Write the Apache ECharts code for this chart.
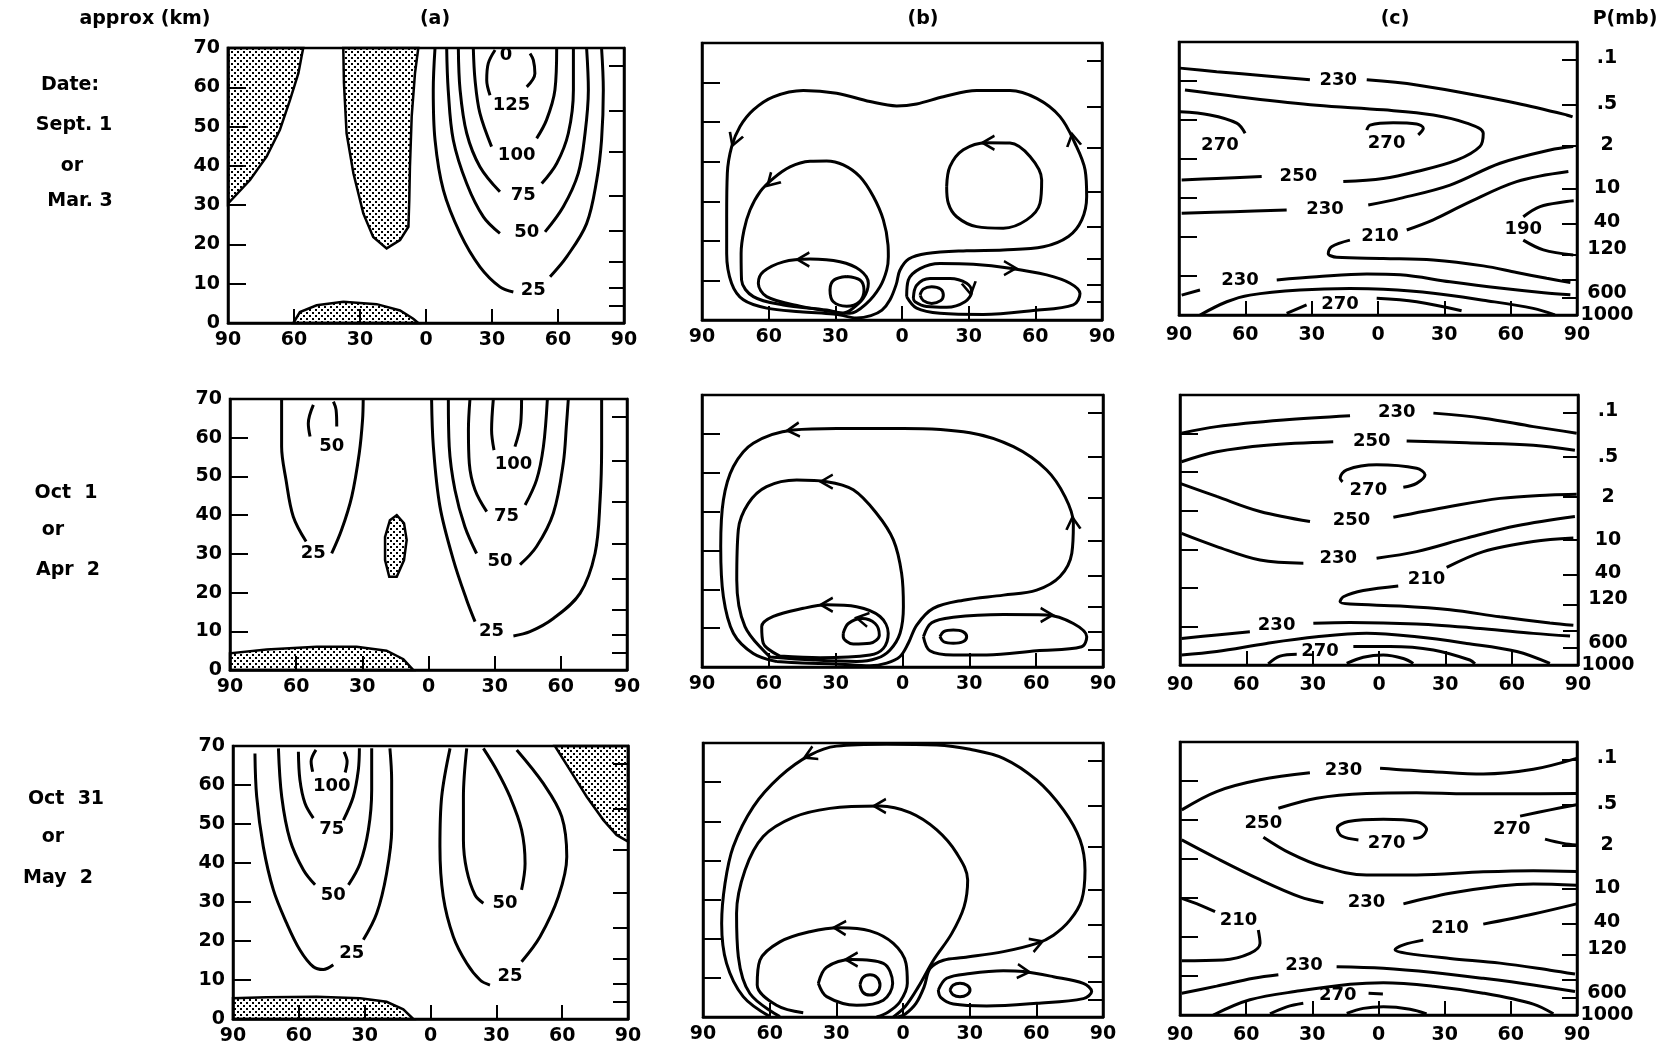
<!DOCTYPE html>
<html><head><meta charset="utf-8">
<script src="https://cdn.jsdelivr.net/npm/echarts@6/dist/echarts.min.js"></script>
<style>html,body{margin:0;padding:0;background:#fff}#c{width:1663px;height:1052px}</style>
</head><body><div id="c"></div>
<script>
// ---------- axis data ----------
const LAT_MIN = -90, LAT_MAX = 90, LAT_STEP = 30;
const KM_MIN = 0, KM_MAX = 70, KM_STEP = 10;
const P_TICK_KM = [65.5, 54, 43.5, 32.5, 23.5, 15.5, 9, 4.5];
const P_LABEL_KM = [65.8, 54, 43.5, 32.5, 23.8, 17, 5.6, 0];
const P_LABELS = ['.1', '.5', '2', '10', '40', '120', '600', '1000'];

// ---------- row 1 (Sept 1 / Mar 3) ----------
const A1_SHADES = [
  [[-90,70],[-55.8,70],[-56.5,68],[-58,63.6],[-61.8,56.8],[-66.4,49.2],[-72.4,42.4],[-80,36.4],[-90,30.4]],
  [[-37.6,70],[-37.3,61.1],[-36.1,48.3],[-33,38.1],[-28.5,27.9],[-24,21.9],[-17.9,19],[-11.8,21.1],[-8,24.5],[-7.6,31.3],[-7.3,39.8],[-6.5,52.6],[-5,63.6],[-3.5,70]],
  [[-60.3,0],[-57.3,2.8],[-49.7,4.5],[-37.6,5.4],[-22.4,4.8],[-11.8,3.2],[-5.8,1.1],[-3.5,0]]
];
const A1_LINES = [
  [[4.1,70],[3.3,59.3],[4.1,46.6],[7.9,33.8],[15.5,22.8],[24.5,14.3],[33.6,9.2],[39.7,7.9]],
  [[56.4,11.8],[64,16.9],[73,25.3],[77.6,36.4],[79.8,46.6],[80.6,59.3],[79.8,70]],
  [[9.4,70],[10.1,59.3],[12.4,46.6],[18.5,35.5],[26.1,27],[33.6,22.8]],
  [[54.1,23.2],[62.4,29.6],[69.2,38.1],[72.3,48.3],[73.8,59.3],[73,70]],
  [[14.7,70],[15.5,59.3],[18.5,48.3],[24.5,39.8],[33.6,33.4]],
  [[52.6,35.5],[59.4,40.6],[64.7,48.3],[67,59.3],[67,70]],
  [[21.5,70],[22.3,61.8],[24.5,53.4],[29.8,44.9]],
  [[50.3,47],[54.8,51.7],[58.6,59.3],[59.4,70]],
  [[31.4,69.5],[28.3,66.1],[27.6,61.8],[29.1,58]],
  [[45.8,60.1],[49.5,63.5],[48.8,66.9],[47.3,68.6]]
];
const A1_LABELS = [[48.8,8.4,'25'],[45.8,23.2,'50'],[44.2,32.6,'75'],[41.2,42.7,'100'],[38.9,55.5,'125'],[36.4,68.2,'0']];

const B1_LINES = [
  [[-26.4,1.1],[-30.9,1.5],[-45.9,2.1],[-60.9,3.0],[-71.4,5.1],[-76.7,9.3],[-78.9,16.8],[-78.9,26.1],[-78.6,37.1],[-76.65,43.8],[-72.9,48.9],[-66.9,53.1],[-57.9,56.4],[-44.4,58],[-29.4,57.3],[-14.4,55.2],[-2.4,54.1],[6.6,54.6],[18.6,56.4],[33.6,58],[48.6,58],[60.6,56],[71.1,51.4],[77.9,44.6],[82.4,37.9],[83.1,31.2],[80.9,25.3],[74.9,21.1],[63.6,18.5],[45.6,17.7],[29.1,17.5],[11.1,16.8],[3,15.4],[-1,12.5],[-2.6,9],[-5.4,5.1],[-9,2.5],[-14,1.1],[-20.4,0.5],[-26.4,1.1]],
  [[-27.9,1.7],[-33.9,2.5],[-53.4,3.8],[-66.9,5.9],[-72.2,10.1],[-72.4,16.8],[-71.1,22.7],[-68.4,27.8],[-63.9,32.4],[-57.9,35.8],[-50.4,38.7],[-41.4,40.1],[-33.9,40.2],[-26.4,39.2],[-18.9,36.2],[-12.9,31.2],[-8.4,25.3],[-6.3,19],[-6.15,16],[-6.9,12.6],[-9.9,8.4],[-15.9,4.2],[-23.4,1.7],[-27.9,1.7]],
  [[-26.4,1.7],[-45.9,3.5],[-60.9,5.9],[-64.65,9.3],[-62.4,12.2],[-53.4,14.7],[-41.4,15.4],[-27.9,14.7],[-18.9,12.6],[-15.15,9.3],[-17.4,5.5],[-23.4,2.4],[-26.4,1.7]],
  [[-24.9,11],[-18.9,10.1],[-17.1,7.6],[-19.2,4.6],[-24.9,3.5],[-30.9,4.6],[-32.4,7.6],[-30.6,10.1],[-24.9,11]],
  [[2.1,5.9],[2.85,10.1],[8.1,13],[17.1,14.3],[32.1,14.1],[48.6,13.1],[65.1,11.4],[75.6,9.3],[80.1,6.7],[77.1,3.8],[59.1,2.4],[36.6,1.4],[17.1,1.7],[6.6,3],[2.1,5.9]],
  [[5.1,5.5],[6.6,8.8],[12.6,10.5],[21.6,10.5],[29.1,9.3],[31.35,7.2],[28.35,4.6],[20.1,3.2],[11.1,3.4],[5.85,4.6],[5.1,5.5]],
  [[8.1,6.3],[9.6,7.8],[13.35,8.4],[17.4,7.8],[18.6,6.3],[17.4,4.9],[13.35,4.2],[9.6,4.9],[8.1,6.3]],
  [[20.1,33.7],[21.6,38.8],[27.6,43],[38.1,44.8],[48.6,44.7],[57.6,41.3],[62.85,35.4],[62.1,29.5],[56.1,25.3],[45.6,23.2],[33.6,23.6],[24.6,26.1],[20.85,29.5],[20.1,33.7]]
];
const B1_ARROWS = [[-75.4,45.5,-110],[77,45.5,100],[-58.6,35,-135],[-44.4,15.3,180],[38.9,44.8,180],[48.6,13.1,0],[30.5,8.0,-80]];

const C1_LINES = [
  [[-89.55,63.3],[-72.97,62.4],[-50.3,61.3],[-30.8,60.3]],
  [[-5.1,60.3],[17.5,59],[40.1,56.8],[62.7,54.3],[85.3,51.3],[88,50.8]],
  [[-87.3,57.7],[-57.9,55.6],[-27.7,53.8],[2.4,52.6],[25,51.3],[40.1,49.2],[47.6,46.6],[46.1,43.2],[35.6,39.7],[17.5,36.8],[2.4,35],[-15.7,34.2]],
  [[-52.6,35.5],[-73,35],[-88.8,34.6]],
  [[-89.55,52.1],[-76,51.3],[-63.9,49.2],[-60.1,46.6]],
  [[-5.1,47.4],[-3.6,48.7],[6.9,49.3],[17.5,49],[20.5,47.9],[18.2,46.2]],
  [[-88.8,26.1],[-65.4,26.5],[-41.3,26.9]],
  [[-4.4,28.2],[10,29.9],[32.6,33.3],[55.2,38.9],[77.8,42.3],[88.3,43.2]],
  [[86.1,36.8],[62.7,34.2],[40.1,28.6],[25,24.4],[13,21.8]],
  [[-12.7,19.2],[-21,17.5],[-22.5,15.8],[-18.7,14.8],[2.4,14.5],[25,14.1],[47.6,12.6],[62.7,10.9],[76.3,9.4],[87,8.3]],
  [[65.7,25.2],[73.3,27.8],[85.3,29.1],[88.5,29.3]],
  [[65.7,19.2],[74.8,16.7],[88.3,15.4]],
  [[-88.8,5.1],[-80.5,6.4]],
  [[-45.8,9],[-27.7,9.8],[-5.1,10.5],[10,10.3],[32.6,8.5],[55,6.9],[75,5.7],[87,5.2]],
  [[-80.5,0],[-68.4,3.4],[-57.9,5.1],[-35.3,6.4],[-12.7,6.8],[2.4,6.6],[25,5.6],[47.6,3.8],[70.2,1.7],[80,0]],
  [[-41.3,0.4],[-32.3,2.6]],
  [[-0.6,4.3],[17.5,3.4],[37.8,1.1]]
];
const C1_LABELS = [[-17.95,60.3,'230'],[-36,35.5,'250'],[-71.5,43.6,'270'],[3.9,44,'270'],[-24,27.1,'230'],[0.9,20.3,'210'],[65.7,22,'190'],[-62.4,9,'230'],[-17.2,2.8,'270']];

// ---------- row 2 (Oct 1 / Apr 2) ----------
const A2_SHADES = [
  [[-90,0],[-90,4.3],[-73.4,5.3],[-50.7,6],[-32.6,6],[-19,5],[-11.4,2.8],[-6.9,0]],
  [[-14.4,40],[-11.1,37.9],[-9.9,33.6],[-11.1,28.4],[-14.4,24.1],[-17.8,24.1],[-19.7,28.4],[-19.7,34.4],[-17.5,38.7]]
];
const A2_LINES = [
  [[-66.6,70],[-66.6,57.7],[-64.6,49.1],[-61.3,39.6],[-55.5,33.2]],
  [[-43.9,30.1],[-39.4,36.2],[-34.8,44.8],[-31.4,56],[-29.9,64.6],[-29.6,70]],
  [[-52.2,68.5],[-54.5,63.7],[-53.7,60.3]],
  [[-41.6,62.9],[-41.9,67.2],[-43.1,69.3]],
  [[1.4,70],[2.2,57.7],[5.2,42.2],[11.3,28.4],[17.3,18.1],[21.1,12.5]],
  [[38.5,8.8],[46,9.9],[56.6,13.3],[68.7,19.8],[75.5,30.1],[77.8,43.9],[78.5,57.7],[78.5,70]],
  [[9,70],[9.4,57.7],[12,46.5],[16.5,37],[21.8,30.1]],
  [[41.5,27.2],[49,31.9],[56.6,40.5],[61.1,53.4],[62.6,63.7],[63.4,70]],
  [[18.8,70],[18.1,62],[18.5,53.4],[21.1,46.5],[26.4,40.9]],
  [[43.8,42.6],[49,49.1],[52.1,57.7],[53.9,70]],
  [[29.4,70],[28.6,62],[29.7,56.8]],
  [[39.2,57.7],[41.8,63.7],[42.2,70]]
];
const A2_LABELS = [[-52.2,30.1,'25'],[-43.9,57.7,'50'],[28.6,9.9,'25'],[32.4,28,'50'],[35.4,39.6,'75'],[38.5,53,'100']];

const B2_LINES = [
  [[-56.5,1.4],[-67,3.5],[-75.9,8.7],[-80.4,18.1],[-81.6,31],[-80.4,43],[-75.9,51.6],[-67,57.6],[-49,61],[-29.5,61.4],[0.4,61.4],[30.3,60.3],[49.8,56.7],[64.7,50.7],[73,43.8],[76.7,37],[76,29.3],[70.7,23.3],[60.2,19.8],[45.3,18.5],[27.3,17.2],[13.8,15.1],[6.4,10.8],[2.6,6.1],[-1.1,2.7],[-7.1,1],[-14.6,0.3],[-30,0.8],[-45,1],[-56.5,1.4]],
  [[-59.5,2.6],[-70.7,10.4],[-74.4,22.4],[-73.7,35.3],[-69.2,42.1],[-61,46.4],[-47.5,48.1],[-34,47.7],[-22.1,45.6],[-11.6,39.5],[-4.1,32.7],[-0.4,24.1],[0.4,15.5],[-1.1,8.7],[-5.6,4.4],[-11.6,2.2],[-20.6,1.4],[-40,1.8],[-59.5,2.6]],
  [[-55,2.8],[-62.5,6.1],[-63.2,10.4],[-58,13],[-44.5,15.1],[-34,16],[-20.6,15.5],[-10.1,13],[-6.4,8.7],[-8.6,4.8],[-14.6,3.1],[-37,2.4],[-55,2.8]],
  [[-26.6,8.7],[-24.3,11.2],[-18.3,12.5],[-12.3,11.2],[-10.4,8.2],[-14.6,6.1],[-22.1,5.9],[-26.6,7.8],[-26.6,8.7]],
  [[9.4,7.8],[13.1,11.4],[22.8,12.8],[45.3,13.5],[64.7,13.4],[76.7,11.2],[82.7,7.8],[80.4,5.2],[60.2,4.2],[37.8,3.1],[22.8,3.1],[12.3,4.2],[9.4,7.8]],
  [[16.8,7.8],[18.5,9.1],[22.8,9.5],[27.1,9.1],[28.8,7.8],[27.1,6.5],[22.8,6.1],[18.5,6.5],[16.8,7.8]]
];
const B2_ARROWS = [[-49,61,185],[76.5,37,95],[-34,47.7,180],[-34,16,180],[-18,12.4,170],[64.7,13.4,0]];

const C2_LINES = [
  [[-89.3,60.1],[-73.4,61.8],[-43.3,63.5],[-13.1,64.6]],
  [[24.6,65.3],[47.2,64],[69.8,61.8],[89.4,60.1]],
  [[-89.3,52.7],[-73.4,55.3],[-50.8,57],[-20.7,57.9]],
  [[12.5,58.1],[39.7,57.6],[69.8,57],[88.6,55.7]],
  [[11,46.1],[17,47.1],[20.8,49.3],[17,51],[-1.1,51.9],[-14.6,50.6],[-17.6,48.4],[-16.5,47.5]],
  [[-90,47.1],[-73.4,43.7],[-53.8,39.8],[-31.2,37.2]],
  [[6.5,38.3],[32.1,41.1],[54.7,43.2],[77.3,44.1],[89.4,44.3]],
  [[-89.3,34.1],[-73.4,30.7],[-53.8,27.2],[-34.2,26.4]],
  [[-1.1,27.7],[17,29.4],[39.6,32.9],[62.3,36.1],[88.6,38.5]],
  [[87.9,32.9],[69.8,32],[47.2,29.4],[30.6,25.3]],
  [[8.7,20.5],[-7.1,19.3],[-16.1,17.7],[-17.6,16.4],[-13.1,15.8],[9.5,15.3],[32.1,14.3],[54.7,12.5],[77.3,10.9],[87.9,10.3]],
  [[-89.3,6.9],[-73.4,7.8],[-58.4,8.6]],
  [[-29.7,10.8],[-13.1,11],[17,10.6],[47.2,9.4],[69.8,8.2],[86.4,7.5]],
  [[-89.3,2.6],[-73.4,3.5],[-50.8,5.6],[-28.2,7.3],[-5.6,8.2],[17,7.3],[39.6,5.6],[62.3,3.5],[77.3,0.4]],
  [[-50.1,0.3],[-44.8,2.3],[-37.2,2.8]],
  [[-11.6,4.8],[5,4.8],[24.6,3.9],[41.1,1.3],[43.4,0.3]],
  [[-14.6,0.4],[-7.1,2],[1.9,2.6],[11,1.7],[15.5,0.4]]
];
const C2_LABELS = [[8,65.5,'230'],[-3.3,57.9,'250'],[-4.8,45.4,'270'],[-12.4,37.6,'250'],[-18.4,27.7,'230'],[21.5,22.2,'210'],[-46.3,10.4,'230'],[-26.7,3.5,'270']];

// ---------- row 3 (Oct 31 / May 2) ----------
const A3_SHADES = [
  [[-90,0],[-90,5.3],[-74.7,5.6],[-51.9,5.7],[-32.1,5.3],[-20,4.4],[-12.4,2.5],[-7.8,0]],
  [[56.7,70],[63.6,63.8],[71.2,57],[78.8,51],[84.8,47.2],[90,45.5],[90,70]]
];
const A3_LINES = [
  [[-80,68.1],[-79.2,57],[-76.2,44.2],[-71.6,33.1],[-65.5,24.5],[-59.5,17.7],[-53.4,13.4],[-48.8,12.7],[-44.3,13.9]],
  [[-30.6,20.3],[-24.5,27.1],[-20,37.4],[-17.7,48.5],[-17.7,61.3],[-18.5,69.4]],
  [[-69.3,69.4],[-67.8,57],[-64,45.9],[-57.9,38.2],[-52.6,34.4]],
  [[-37.4,34.4],[-32.1,39.9],[-28.3,48.5],[-26.8,58.7],[-26.8,69.4]],
  [[-60.2,68.5],[-59.5,61.3],[-57.2,55.3],[-53.4,51.5]],
  [[-39.7,51],[-35.2,57],[-32.9,63.8],[-32.4,69.4]],
  [[-52.2,69],[-54.4,66],[-53.7,63.4]],
  [[-38.9,63.2],[-38,66],[-39.4,68.5]],
  [[8.9,69.4],[5.1,57],[4.3,44.2],[5.8,31.4],[10.4,21.1],[16.5,14.3],[22.6,10],[27.1,8.7]],
  [[41.5,14.7],[49.9,21.1],[58.3,31.4],[62.1,41.6],[59.8,51.9],[51.4,60.4],[39.3,69]],
  [[16.5,69.4],[15,57],[15,45.9],[16.5,38.2],[20.3,31.8],[24.1,29.7]],
  [[41.5,33.1],[43.1,39.9],[41.5,48.5],[36.2,57],[30.2,63.8],[24.1,69.4]]
];
const A3_LABELS = [[-35.9,16.8,'25'],[-44.3,31.8,'50'],[-45,48.6,'75'],[-45,59.6,'100'],[36.2,10.9,'25'],[34,29.7,'50']];

const B3_LINES = [
  [[-59.9,0.1],[-71.9,5.2],[-79.4,13.7],[-81.6,23.9],[-80.1,34.1],[-76.4,43.5],[-67.4,53.7],[-55.4,61.4],[-41.9,66.9],[-29.9,69.2],[-7.4,69.7],[15.2,69.5],[30.2,68.4],[45.2,66.1],[60.2,60.5],[72.2,52.9],[79.7,45.2],[81.9,37.5],[80.4,29.9],[75.2,24.8],[67.7,20.9],[60.2,18.8],[45.2,16.7],[27.2,15.2],[18.2,14.5],[12.2,12.4],[9.5,7.7],[5.85,3.5],[0.9,0.7],[-2.1,0]],
  [[-55.4,0.1],[-68.9,6],[-74.1,15.4],[-74.9,26.5],[-71.1,37.5],[-62.9,46.1],[-49.4,51],[-32.9,53.3],[-10.4,53.9],[3.2,52.2],[15.2,47.8],[24.2,41.8],[29.1,35],[27.5,28.2],[21.9,21.3],[13.7,14.5],[6.9,7.7],[0.9,2.6],[-4.35,0]],
  [[-44.9,1.1],[-56.9,3],[-65.6,8.2],[-64.4,14.5],[-55.4,19.2],[-41.9,21.8],[-28.4,22.8],[-14.9,22],[-4.35,18.8],[1.35,13.7],[1.95,8.6],[-1.35,3.9],[-6.6,1.3],[-11.85,0]],
  [[-38.1,8.6],[-34.4,12.7],[-23.1,14.7],[-8.85,13.7],[-4.65,8.6],[-8.85,4.3],[-20.85,3],[-34.35,5.2],[-38.1,8.6]],
  [[-19.35,8.2],[-18,10.1],[-14.85,10.8],[-11.7,10.1],[-10.35,8.2],[-11.7,6.3],[-14.85,5.6],[-18,6.3],[-19.35,8.2]],
  [[15.9,6.9],[19.65,9.9],[30.15,11.1],[45.15,11.8],[54.15,11.6],[67.65,10.3],[81.15,8.6],[84.9,6.5],[81.15,4.7],[60.15,3.5],[37.65,2.8],[22.65,3.3],[16.95,5],[15.9,6.9]],
  [[21.15,6.9],[22.5,8.1],[25.65,8.6],[28.8,8.1],[30.15,6.9],[28.8,5.7],[25.65,5.2],[22.5,5.7],[21.15,6.9]]
];
const B3_ARROWS = [[-41.9,66.9,-155],[60.2,18.8,20],[-10.4,53.9,180],[-28.4,22.8,178],[-23.1,14.7,180],[54.15,11.6,-5]];

const C3_LINES = [
  [[-89.2,52.6],[-73.4,57.3],[-53.7,60.3],[-31.1,62.1]],
  [[0.7,63.3],[24.9,62.4],[47.5,61.8],[70.2,63],[89.8,65.8]],
  [[-45.4,53],[-28,55.6],[-5.4,56.8],[17.3,57],[40,56.7],[62.6,56.7],[89.8,56.8]],
  [[-52.2,45.6],[-40.1,41.5],[-25,38],[-5.4,35.9],[17.3,35.9],[47.5,36.7],[70.2,37],[89.8,36.8]],
  [[15.8,45.3],[19.6,45.7],[21.8,47.6],[17.3,49.6],[2.2,50.2],[-13.7,49.6],[-18.7,47.9],[-16.7,45.9],[-9.1,44.9]],
  [[64.2,51],[77.8,52.6],[89.8,53.9]],
  [[75.5,45.1],[83.8,44],[89.8,43.6]],
  [[-89.2,44.9],[-73.4,40.2],[-53.7,34.7],[-35.6,30.3],[-25,28.8]],
  [[11.3,28.5],[32.4,31.2],[55.1,33.1],[70.2,33.6],[89.8,33.3]],
  [[-89.2,29.9],[-80.9,28.2],[-74.1,26.5]],
  [[-54.5,21.8],[-53.7,18.4],[-58.3,15.8],[-70.4,14.1],[-89.2,13.9]],
  [[89.8,28.5],[70.2,25.9],[47.5,23.3]],
  [[20.3,19.2],[11.3,18],[7.5,16.7],[12.8,15.8],[32.4,14.5],[55.1,13.3],[77.8,11.5],[89.1,10.5]],
  [[-89.2,5.6],[-73.4,7.4],[-56.7,9.4],[-45.4,10.3]],
  [[-19,12.4],[2.2,12],[24.9,10.9],[47.5,9.4],[70.2,7.7],[89.1,6]],
  [[-74.9,0],[-58.3,3.9],[-35.6,6.2],[-12.9,7.9],[2.2,8.3],[24.9,7.4],[47.5,5.6],[70.2,2.8],[79.3,0.3]],
  [[-49.2,0.3],[-41.6,2.1],[-34.1,3]],
  [[-4.5,5.6],[2,5.4]],
  [[-14.4,0.4],[-6.9,1.7],[2.2,2.1],[14.3,1.5],[21.8,0.3]]
];
const C3_LABELS = [[-15.9,62.8,'230'],[-52.2,49.1,'250'],[3.7,44,'270'],[60.4,47.6,'270'],[-5.4,28.8,'230'],[-63.5,24.2,'210'],[32.4,22.3,'210'],[-33.8,12.8,'230'],[-18.5,5.1,'270']];

// ---------- text ----------
const HEAD_TEXTS = [['approx (km)',145,19],['(a)',435,19],['(b)',923,19],['(c)',1395,19],['P(mb)',1625,19]];
const ROW_TEXTS = [
  ['Date:',70,85],['Sept. 1',74,125],['or',72,166],['Mar. 3',80,201],
  ['Oct  1',66,493],['or',53,530],['Apr  2',68,570],
  ['Oct  31',66,799],['or',53,837],['May  2',58,878]
];

// ---------- layout ----------
const LAYOUT = [
  {left:228, top:48, width:396, height:275, kind:'a'},
  {left:702, top:43, width:400, height:277, kind:'b'},
  {left:1179, top:42, width:398, height:273, kind:'c'},
  {left:230, top:399, width:397, height:271, kind:'a'},
  {left:702, top:395, width:401, height:272, kind:'b'},
  {left:1180, top:395, width:398, height:270, kind:'c'},
  {left:233, top:746, width:395, height:273, kind:'a'},
  {left:703, top:743, width:400, height:274, kind:'b'},
  {left:1180, top:742, width:397, height:273, kind:'c'}
];
const PANELS = [
  {lines:A1_LINES, labels:A1_LABELS, shades:A1_SHADES, arrows:[]},
  {lines:B1_LINES, labels:[], shades:[], arrows:B1_ARROWS},
  {lines:C1_LINES, labels:C1_LABELS, shades:[], arrows:[]},
  {lines:A2_LINES, labels:A2_LABELS, shades:A2_SHADES, arrows:[]},
  {lines:B2_LINES, labels:[], shades:[], arrows:B2_ARROWS},
  {lines:C2_LINES, labels:C2_LABELS, shades:[], arrows:[]},
  {lines:A3_LINES, labels:A3_LABELS, shades:A3_SHADES, arrows:[]},
  {lines:B3_LINES, labels:[], shades:[], arrows:B3_ARROWS},
  {lines:C3_LINES, labels:C3_LABELS, shades:[], arrows:[]}
];

const FONT = 'DejaVu Sans';
const stipple = (function(){
  const c = document.createElement('canvas'); c.width = 6; c.height = 6;
  const g = c.getContext('2d'); g.fillStyle = '#000';
  g.fillRect(0,0,2,2); g.fillRect(3,3,2,2);
  return c;
})();

const grids = [], xAxes = [], yAxes = [], series = [];
LAYOUT.forEach((L, i) => {
  grids.push({left:L.left, top:L.top, width:L.width, height:L.height, show:true,
    borderColor:'#000', borderWidth:2.5, backgroundColor:'rgba(0,0,0,0)', containLabel:false, outerBoundsMode:'none'});
  xAxes.push({type:'value', gridIndex:i, min:LAT_MIN, max:LAT_MAX, interval:LAT_STEP,
    axisLine:{show:true, onZero:false, lineStyle:{color:'#000', width:2.5}},
    axisTick:{show:true, inside:true, length:14, lineStyle:{color:'#000', width:2}},
    axisLabel:{show:true, color:'#000', fontSize:19, fontWeight:'bold', fontFamily:FONT, margin:L.kind === 'c' ? 11 : 8, formatter:v => String(Math.abs(v))},
    splitLine:{show:false}});
  yAxes.push({type:'value', gridIndex:i, position:'left', min:KM_MIN, max:KM_MAX, interval:KM_STEP,
    axisLine:{show:true, onZero:false, lineStyle:{color:'#000', width:2.5}},
    axisTick:{show:true, inside:true, length:18, lineStyle:{color:'#000', width:2}},
    axisLabel:{show:L.kind === 'a', color:'#000', fontSize:19, fontWeight:'bold', fontFamily:FONT, margin:8},
    splitLine:{show:false}});
  yAxes.push({type:'value', gridIndex:i, position:'right', min:KM_MIN, max:KM_MAX,
    axisLine:{show:true, onZero:false, lineStyle:{color:'#000', width:2.5}},
    axisTick:{show:true, inside:true, length:15, customValues:P_TICK_KM, lineStyle:{color:'#000', width:2}},
    axisLabel:{show:L.kind === 'c', customValues:P_LABEL_KM, color:'#000', fontSize:19, fontWeight:'bold', fontFamily:FONT,
      margin:30, align:'center',
      formatter:v => { let b = 0; P_LABEL_KM.forEach((k, j) => { if (Math.abs(k - v) < Math.abs(P_LABEL_KM[b] - v)) b = j; }); return P_LABELS[b]; }},
    splitLine:{show:false}});

  const P = PANELS[i];
  P.shades.forEach(poly => series.push({
    type:'custom', xAxisIndex:i, yAxisIndex:2*i, data:poly, encode:{x:0, y:1}, silent:true, z:1,
    renderItem:(params, api) => {
      if (params.dataIndex !== 0) return null;
      return {type:'polygon', shape:{points:poly.map(pt => api.coord(pt))},
        style:{fill:{image:stipple, repeat:'repeat'}, stroke:'#000', lineWidth:2.5}};
    }
  }));
  P.lines.forEach(line => series.push({
    type:'line', xAxisIndex:i, yAxisIndex:2*i, data:line, showSymbol:false, symbol:'none',
    smooth:0.35, lineStyle:{color:'#000', width:3}, silent:true, z:3, clip:true
  }));
  if (P.labels.length) series.push({
    type:'scatter', xAxisIndex:i, yAxisIndex:2*i, symbolSize:1, itemStyle:{color:'rgba(0,0,0,0)', opacity:1}, silent:true, z:4,
    data:P.labels.map(l => ({value:[l[0], l[1]], name:l[2]})),
    label:{show:true, position:'inside', formatter:'{b}', color:'#000', opacity:1, fontSize:18, fontWeight:'bold', fontFamily:FONT}
  });
  if (P.arrows.length) series.push({
    type:'scatter', xAxisIndex:i, yAxisIndex:2*i, symbol:'path://M0,0L10,6L0,12', symbolSize:[12,14],
    itemStyle:{color:'rgba(0,0,0,0)', borderColor:'#000', borderWidth:2.5, opacity:1}, silent:true, z:5,
    data:P.arrows.map(a => ({value:[a[0], a[1]], symbolRotate:a[2]}))
  });
});

const graphics = HEAD_TEXTS.concat(ROW_TEXTS).map(t => ({
  type:'text', x:t[1], y:t[2], silent:true,
  style:{text:t[0], fill:'#000', font:'bold 19px "' + FONT + '"', textAlign:'center', textVerticalAlign:'middle'}
}));

const chart = echarts.init(document.getElementById('c'), null, {renderer:'canvas'});
chart.setOption({
  animation:false, backgroundColor:'#fff',
  grid:grids, xAxis:xAxes, yAxis:yAxes, series:series, graphic:graphics
});
</script></body></html>
